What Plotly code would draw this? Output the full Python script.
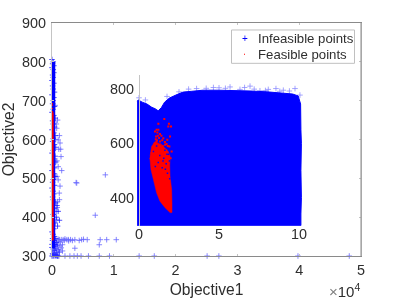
import plotly.graph_objects as go

W, H = 399, 299
FONT = "Liberation Sans"
TXT = "#2e2e2e"

# Main panel: x in units of 1e4
core_x = [0.012, 0.012, 0.012]
core_y = [320, 600, 800]
band_x = [0.00,0.02,0.01,0.03,0.00,0.02,0.03,0.01,0.02,0.00,0.03,0.01,0.02,0.04,0.00,0.03,0.02,0.01,0.04,0.02,
          0.00,0.03,0.05,0.01,0.02,0.04,0.00,0.03,0.05,0.02,0.01,0.04,0.06,0.02,0.00,0.05,0.03,0.06,0.01,0.04,
          0.00,0.03,0.05,0.02,0.01,0.04,0.00,0.02,0.03,0.01,0.02,0.06,0.08,0.04,0.10,0.02,0.07,0.12,0.05,0.09,0.03]
band_y = [806,800,795,790,785,780,772,766,760,752,745,738,730,722,715,708,700,692,685,678,
          670,662,655,648,640,632,625,617,610,602,595,587,580,572,565,557,550,542,535,527,
          520,512,505,497,490,482,475,467,460,452,445,437,430,422,415,407,400,392,385,377,370]
low_x = [0.00,0.02,0.04,0.06,0.01,0.03,0.05,0.08,0.00,0.02,0.04,0.07,0.01,0.03,0.06,0.09,0.00,0.02,0.05,0.08,
         0.01,0.04,0.07,0.00,0.03,0.06,0.10,0.12,0.02,0.05,0.08,0.11]
low_y = [362,356,350,345,340,335,330,326,322,318,314,310,306,304,302,300,300,300,300,300,
         345,340,335,330,325,320,316,310,304,304,302,300]
out_x = [0.863,0.39,0.40,0.70,1.04,0.885,0.78,0.765,0.37,0.57,0.48,0.37,0.265,0.18,0.15,0.12,0.10,0.21,0.24,0.30,
         0.17,0.15,0.17,0.21,0.29,0.356,0.41,0.47,0.59,0.765,0.93,1.41,1.655,2.51,2.70,3.98,4.81,
         0.05,0.076,0.10,0.13,0.146,0.157,0.10,0.118,0.085,0.076,0.09,0.12,0.07,0.11,0.08,0.06,0.10,0.13,0.08,0.09,0.12,0.14,0.07,
         0.11,0.14,0.09,0.13,0.20,0.27,0.33,0.44,0.51]
out_y = [509,489,488,405,342,342,342,329,320,342,342,342,342,342,342,342,343,344,342,342,
         329,321,313,300,300,300,300,300,300,300,300,300,300,300,300,300,300,
         688,629,599,591,556,520,496,462,425,393,650,610,640,575,545,600,530,480,505,440,445,575,415,
         338,336,330,326,340,339,340,340,343]
red_band_x = [0.006, 0.006, 0.006, 0.006]
red_band_y = [340, 450, 600, 670]
red_top_x = [0.006, 0.006, 0.006, 0.006]
red_top_y = [672, 680, 688, 692]

# Inset panel: blue envelope
blue_x = [-0.12,-0.05,0.2,0.5,0.8,1.0,1.2,1.4,1.6,1.9,2.3,2.75,3.3,4.0,5.0,6.0,7.0,8.0,9.0,9.6,9.95,10.1,10.12,10.15,10.12,10.15,10.12,10.12,-0.12]
blue_y = [755,760,752,745,733,728,720,732,752,767,778,789,792,796,796,795,793,790,786,782,775,745,650,600,500,400,340,297,297]
inset_out_x = [5.69,6.94,4.65,8.08,9.02,9.75,6.31,7.56,8.56,10.06,5.4,6.6,7.2,7.9,8.8,9.4,3.6,4.2,5.0,3.1,2.5,1.75,0.0,0.4]
inset_out_y = [808,811,806,799,796,802,799,794,802,778,803,806,800,795,792,793,802,803,805,800,790,773,768,760]
# Inset panel: red cloud
red_poly_x = [0.69,0.79,1.0,1.25,1.52,1.83,1.95,1.92,1.94,2.04,2.06,2.06,1.94,1.63,1.31,1.10,0.90,0.75,0.69,0.66]
red_poly_y = [552,589,607,600,589,570,552,520,479,430,381,345,345,363,387,418,467,503,540,545]
red_pts_x = [1.58,1.87,1.21,2.0,1.83,1.10,1.0,1.31,1.21,1.06,1.52,1.94,1.77,1.10,1.31,1.63,0.94,1.90,0.85,1.31,2.04,1.52,0.79,1.98,1.70,
             1.15,1.40,1.05,1.25,1.45,1.62,0.98,1.18,1.38,1.72,0.90,1.12,1.48,1.80]
red_pts_y = [690,672,672,662,662,650,644,635,650,625,619,625,613,607,607,595,589,589,574,583,570,570,564,545,575,
             640,628,615,620,612,605,600,628,598,598,580,612,590,590]
speck_x = [1.1,1.4,1.62,1.75,0.9,1.3,1.55,1.85,1.2,1.7,1.9,1.02,1.45,1.65,1.92,1.78,1.5]
speck_y = [590,600,575,560,570,555,545,560,530,525,535,515,510,505,470,490,535]

AX_DARK = "#8a8a8a"
AX_LIGHT = "#c4c4c4"
BLUE = "#0000ff"
RED = "#ff0000"

ML, MR, MT, MB = 52, 38, 22.5, 42.5
PW, PH = W - ML - MR, H - MT - MB
def px_x(p): return (p - ML) / PW
def px_y(p): return 1 - (p - MT) / PH

fig = go.Figure()
plus = dict(symbol="cross-thin", size=4, color=BLUE, line=dict(color=BLUE, width=0.8))

fig.add_trace(go.Scatter(x=core_x, y=core_y, mode="lines", line=dict(color=BLUE, width=5),
                         cliponaxis=False, showlegend=False, hoverinfo="skip"))
fig.add_trace(go.Scatter(x=band_x + low_x, y=band_y + low_y, mode="markers", marker=plus,
                         opacity=0.85, cliponaxis=False, showlegend=False, hoverinfo="skip"))
fig.add_trace(go.Scatter(x=out_x, y=out_y, mode="markers", marker=plus, opacity=0.6,
                         cliponaxis=False, showlegend=False, name="Infeasible points"))
fig.add_trace(go.Scatter(x=red_band_x, y=red_band_y, mode="lines", line=dict(color=RED, width=2.5),
                         cliponaxis=False, showlegend=False, hoverinfo="skip"))
fig.add_trace(go.Scatter(x=red_top_x, y=red_top_y, mode="markers",
                         marker=dict(color=RED, size=1.5), cliponaxis=False, showlegend=False, name="Feasible points"))

fig.add_trace(go.Scatter(x=blue_x, y=blue_y, xaxis="x2", yaxis="y2", mode="lines", fill="toself",
                         fillcolor=BLUE, line=dict(color=BLUE, width=1), showlegend=False, hoverinfo="skip"))
fig.add_trace(go.Scatter(x=inset_out_x, y=inset_out_y, xaxis="x2", yaxis="y2", mode="markers",
                         marker=plus, opacity=0.45, cliponaxis=False, showlegend=False, hoverinfo="skip"))
fig.add_trace(go.Scatter(x=red_poly_x, y=red_poly_y, xaxis="x2", yaxis="y2", mode="lines", fill="toself",
                         fillcolor=RED, line=dict(color=RED, width=0.5), showlegend=False, hoverinfo="skip"))
fig.add_trace(go.Scatter(x=red_pts_x, y=red_pts_y, xaxis="x2", yaxis="y2", mode="markers",
                         marker=dict(color=RED, size=2, symbol="square"), showlegend=False, hoverinfo="skip"))
fig.add_trace(go.Scatter(x=speck_x, y=speck_y, xaxis="x2", yaxis="y2", mode="markers",
                         marker=dict(color=BLUE, size=1.5, symbol="square"), showlegend=False, hoverinfo="skip"))

fig.update_layout(
    width=W, height=H, margin=dict(l=ML, r=MR, t=MT, b=MB, pad=0), autosize=False,
    paper_bgcolor="white", plot_bgcolor="white", showlegend=False,
    font=dict(family=FONT, size=14.4, color=TXT),
    xaxis=dict(domain=[0, 1], range=[0, 5], tickvals=[0, 1, 2, 3, 4, 5], automargin=False,
               showgrid=False, zeroline=False, showline=True, linecolor=AX_DARK, linewidth=1,
               mirror="ticks", ticks="inside", ticklen=2, tickcolor=AX_LIGHT, ticklabelstandoff=1,
               tickfont=dict(size=14.4, color=TXT), anchor="y",
               title=dict(text="Objective1", font=dict(size=15.6, color=TXT), standoff=6)),
    yaxis=dict(domain=[0, 1], range=[300, 900], tickvals=[300, 400, 500, 600, 700, 800, 900], automargin=False,
               showgrid=False, zeroline=False, showline=True, linecolor=AX_LIGHT, linewidth=1,
               ticks="inside", ticklen=2, tickcolor=AX_LIGHT, mirror="ticks", ticklabelstandoff=2,
               tickfont=dict(size=14.4, color=TXT), anchor="x",
               title=dict(text="Objective2", font=dict(size=15.6, color=TXT), standoff=3)),
    xaxis2=dict(domain=[px_x(136.6), px_x(303.8)], range=[-0.15, 10.3], tickvals=[0, 5, 10], automargin=False,
                showgrid=False, zeroline=False, showline=False, ticks="", ticklabelstandoff=-2,
                tickfont=dict(size=14.4, color=TXT), anchor="y2"),
    yaxis2=dict(domain=[px_y(226), px_y(75)], range=[297, 851], tickvals=[400, 600, 800], automargin=False,
                showgrid=False, zeroline=False, showline=True, linecolor=AX_LIGHT, linewidth=1,
                ticks="outside", ticklen=0, tickcolor=AX_LIGHT, ticklabelstandoff=2,
                tickfont=dict(size=14.4, color=TXT), anchor="free", position=px_x(139)),
    annotations=[
        dict(text="<span style='color:#808080'>×</span>10<sup>4</sup>", xref="paper", yref="paper",
             x=px_x(362), xanchor="right", y=px_y(303), yanchor="bottom", showarrow=False,
             font=dict(size=15, color=TXT)),
        dict(text="Infeasible points", xref="paper", yref="paper", x=px_x(255.5), xanchor="left",
             y=px_y(38.5), yanchor="middle", showarrow=False, font=dict(size=13.2, color=TXT)),
        dict(text="Feasible points", xref="paper", yref="paper", x=px_x(255.5), xanchor="left",
             y=px_y(54), yanchor="middle", showarrow=False, font=dict(size=13.2, color=TXT)),
        dict(text="+", xref="paper", yref="paper", x=px_x(244.5), xanchor="center",
             y=px_y(38.5), yanchor="middle", showarrow=False, font=dict(size=10, color=BLUE)),
    ],
    shapes=[
        dict(type="line", xref="paper", yref="paper", x0=1, x1=1, y0=0, y1=1, line=dict(color=AX_DARK, width=1)),
        dict(type="rect", xref="paper", yref="paper", x0=px_x(231.5), x1=px_x(354.5), y0=px_y(63), y1=px_y(29.5),
             fillcolor="white", line=dict(color="#c0c0c0", width=1)),
        dict(type="rect", xref="paper", yref="paper", x0=px_x(244), x1=px_x(245), y0=px_y(54.5), y1=px_y(53.5),
             fillcolor=RED, line=dict(color=RED, width=0)),
    ],
)
fig.write_html("out.html", config=dict(displayModeBar=False), post_script="document.body.style.margin='0';")
